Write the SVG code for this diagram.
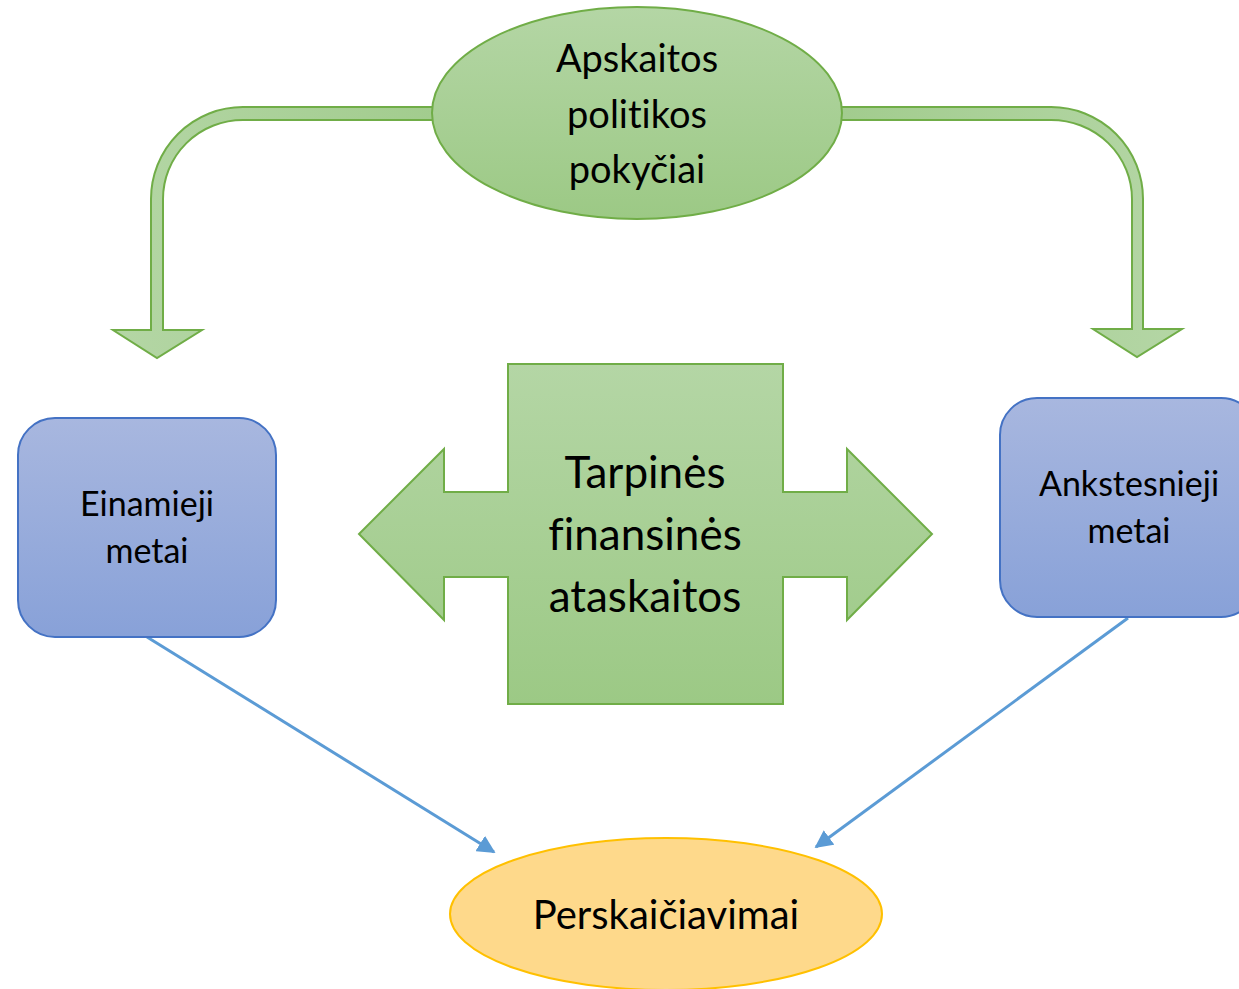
<svg xmlns="http://www.w3.org/2000/svg" width="1239" height="989" viewBox="0 0 1239 989">
<defs>
<linearGradient id="gGreen" x1="0" y1="0" x2="0" y2="1"><stop offset="0" stop-color="#b4d6a5"/><stop offset="1" stop-color="#9cc985"/></linearGradient>
<linearGradient id="gBent" x1="0" y1="0" x2="1" y2="0"><stop offset="0" stop-color="#b4d6a5"/><stop offset="1" stop-color="#a2cc8e"/></linearGradient>
<linearGradient id="gBentR" x1="1" y1="0" x2="0" y2="0"><stop offset="0" stop-color="#b4d6a5"/><stop offset="1" stop-color="#a2cc8e"/></linearGradient>
<linearGradient id="gBlue" x1="0" y1="0" x2="0" y2="1"><stop offset="0" stop-color="#a8b7df"/><stop offset="1" stop-color="#88a1d8"/></linearGradient>
<marker id="ah" viewBox="0 0 10 10" refX="9" refY="5" markerWidth="6" markerHeight="6" orient="auto" markerUnits="strokeWidth"><path d="M0,0 L10,5 L0,10 Z" fill="#5b9bd5"/></marker>
</defs>
<style>
.gshape{fill:url(#gGreen);stroke:#70ad47;stroke-width:2}
.box{fill:url(#gBlue);stroke:#4472c4;stroke-width:2}
.conn{stroke:#5b9bd5;stroke-width:3;fill:none;marker-end:url(#ah)}
.t{font-family:Lato,"Open Sans","Liberation Sans",sans-serif;fill:#000;text-anchor:middle;font-variant-ligatures:none}
</style>
<rect width="1239" height="989" fill="#fff"/>
<g id="connectors">
<path d="M434 107 L243 107 A92 92 0 0 0 151 199 L151 330 L113 330 L157 358 L202 330 L163 330 L163 199 A80 79 0 0 1 243 120 L434 120 Z" fill="url(#gBent)" stroke="#70ad47" stroke-width="2"/>
<path d="M840 107 L1051 107 A92 92 0 0 1 1143 199 L1143 329 L1182 329 L1137 357 L1093 329 L1132 329 L1132 199 A81 79 0 0 0 1051 120 L840 120 Z" fill="url(#gBentR)" stroke="#70ad47" stroke-width="2"/>
<line class="conn" x1="147" y1="637" x2="494" y2="852"/>
<line class="conn" x1="1128" y1="618" x2="816" y2="847"/>
</g>
<g id="apskaitos">
<ellipse class="gshape" cx="637" cy="113" rx="205" ry="106"/>
<text class="t" x="637" y="72" font-size="38">Apskaitos</text>
<text class="t" x="637" y="128" font-size="38">politikos</text>
<text class="t" x="637" y="183" font-size="38">pokyčiai</text>
</g>
<g id="tarpines">
<polygon class="gshape" points="508,364 783,364 783,492 847,492 847,449 932,534 847,620 847,577 783,577 783,704 508,704 508,577 444,577 444,620 359,534 444,449 444,492 508,492"/>
<text class="t" x="645" y="488" font-size="44">Tarpinės</text>
<text class="t" x="645" y="550" font-size="44">finansinės</text>
<text class="t" x="645" y="612" font-size="44">ataskaitos</text>
</g>
<g id="einamieji">
<rect class="box" x="18" y="418" width="258" height="219" rx="37"/>
<text class="t" x="147" y="516" font-size="34">Einamieji</text>
<text class="t" x="147" y="563" font-size="34">metai</text>
</g>
<g id="ankstesnieji">
<rect class="box" x="1000" y="398" width="258" height="219" rx="37"/>
<text class="t" x="1129" y="496" font-size="34">Ankstesnieji</text>
<text class="t" x="1129" y="543" font-size="34">metai</text>
</g>
<g id="perskaiciavimai">
<ellipse cx="666" cy="914" rx="216" ry="76" fill="#fed98b" stroke="#ffc000" stroke-width="2"/>
<text class="t" x="666" y="929" font-size="40">Perskaičiavimai</text>
</g>
</svg>
